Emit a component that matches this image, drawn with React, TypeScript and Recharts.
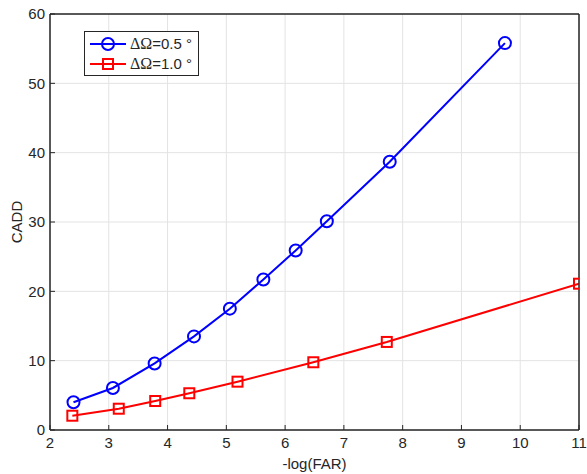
import React from 'react';
import { LineChart, Line, XAxis, YAxis, CartesianGrid, ReferenceArea } from 'recharts';

// values
const blueX = [2.4, 3.07, 3.78, 4.45, 5.06, 5.63, 6.18, 6.71, 7.78, 9.74];
const blueY = [4.0, 6.06, 9.6, 13.5, 17.5, 21.7, 25.9, 30.1, 38.7, 55.8];
const redX = [2.38, 3.17, 3.79, 4.37, 5.19, 6.48, 7.73, 11.0];
const redY = [2.06, 3.07, 4.18, 5.3, 6.97, 9.77, 12.7, 21.1];
const xTicks = [2, 3, 4, 5, 6, 7, 8, 9, 10, 11];
const yTicks = [0, 10, 20, 30, 40, 50, 60];

const blueData = blueX.map((x, i) => ({ x, y: blueY[i] }));
const redData = redX.map((x, i) => ({ x, y: redY[i] }));

const AXIS = '#262626';
const BLUE = '#0000ff';
const RED = '#ff0000';
const SANS = 'Liberation Sans, Arial, sans-serif';

const tickStyle = { fontSize: 15, fill: AXIS, fontFamily: SANS };

const SquareDot = (props: any) => {
  const { cx, cy, index } = props;
  if (cx == null || cy == null) return null;
  return (
    <rect
      key={`sq-${index}`}
      x={cx - 5}
      y={cy - 5}
      width={10}
      height={10}
      fill="none"
      stroke={RED}
      strokeWidth={2}
    />
  );
};

const legendItems = [
  { label: '=0.5 \u00b0', color: BLUE, marker: 'circle' },
  { label: '=1.0 \u00b0', color: RED, marker: 'square' },
];

const LegendBox = () => (
  <div
    style={{
      position: 'absolute',
      left: 84,
      top: 31,
      border: `1px solid ${AXIS}`,
      background: '#fff',
      width: 115,
      height: 45,
      boxSizing: 'border-box',
      paddingTop: 2,
    }}
  >
    {legendItems.map((it) => (
      <div key={it.label} style={{ display: 'flex', alignItems: 'center', height: 20 }}>
        <svg width={45} height={20} style={{ flex: 'none' }}>
          <line x1={5} x2={41} y1={10} y2={10} stroke={it.color} strokeWidth={2} />
          {it.marker === 'circle' ? (
            <circle cx={23} cy={10} r={6} fill="none" stroke={it.color} strokeWidth={2} />
          ) : (
            <rect x={18} y={5} width={10} height={10} fill="none" stroke={it.color} strokeWidth={2} />
          )}
        </svg>
        <span style={{ fontSize: 15, color: AXIS, whiteSpace: 'nowrap', fontFamily: SANS }}>
          <span style={{ fontFamily: 'Liberation Serif, Times New Roman, serif', fontSize: 16 }}>ΔΩ</span>
          {it.label}
        </span>
      </div>
    ))}
  </div>
);

export default function App() {
  return (
    <div style={{ position: 'absolute', left: 0, top: 0, width: 587, height: 474, background: '#fff' }}>
      <LineChart width={587} height={474} margin={{ top: 13, right: 7, bottom: 0, left: 0 }}>
        <CartesianGrid xAxisId="b" yAxisId="l" stroke="#e3e3e3" strokeWidth={1} />
        <XAxis
          xAxisId="b"
          dataKey="x"
          type="number"
          domain={[2, 11]}
          ticks={xTicks}
          allowDataOverflow
          height={44}
          stroke={AXIS}
          tick={tickStyle}
          tickSize={-5}
          tickMargin={12}
          label={{ value: '-log(FAR)', position: 'insideBottom', offset: 5, style: { fontSize: 15, fill: AXIS, fontFamily: SANS } }}
        />
        <XAxis
          xAxisId="t"
          orientation="top"
          type="number"
          domain={[2, 11]}
          ticks={xTicks}
          allowDataOverflow
          height={1}
          stroke={AXIS}
          tick={false}
          tickSize={-5}
        />
        <YAxis
          yAxisId="l"
          type="number"
          domain={[0, 60]}
          ticks={yTicks}
          allowDataOverflow
          width={50}
          stroke={AXIS}
          tick={tickStyle}
          tickSize={-5}
          tickMargin={10}
          label={{ value: 'CADD', angle: -90, position: 'insideLeft', offset: 17, style: { fontSize: 15, fill: AXIS, textAnchor: 'middle', fontFamily: SANS } }}
        />
        <YAxis
          yAxisId="r"
          orientation="right"
          type="number"
          domain={[0, 60]}
          ticks={yTicks}
          allowDataOverflow
          width={1}
          stroke={AXIS}
          tick={false}
          tickSize={-5}
        />
        <ReferenceArea
          xAxisId="b"
          yAxisId="l"
          x1={2}
          x2={11}
          y1={0}
          y2={60}
          fill="none"
          fillOpacity={0}
          stroke={AXIS}
          strokeWidth={1}
          ifOverflow="visible"
        />
        <Line
          xAxisId="b"
          yAxisId="l"
          data={blueData}
          dataKey="y"
          stroke={BLUE}
          strokeWidth={2}
          dot={{ r: 6, fill: 'none', stroke: BLUE, strokeWidth: 2 }}
          activeDot={false}
          isAnimationActive={false}
        />
        <Line
          xAxisId="b"
          yAxisId="l"
          data={redData}
          dataKey="y"
          stroke={RED}
          strokeWidth={2}
          dot={<SquareDot />}
          activeDot={false}
          isAnimationActive={false}
        />
      </LineChart>
      <LegendBox />
    </div>
  );
}
